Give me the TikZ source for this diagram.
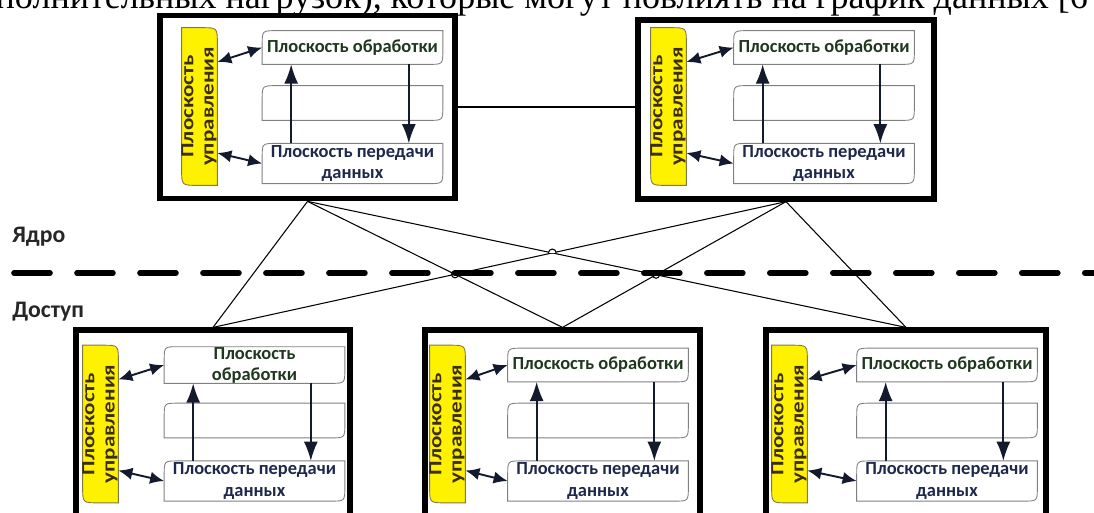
\documentclass[tikz,border=0pt]{standalone}
\usepackage{fontspec}
\usepackage{graphicx}
\setmainfont{Liberation Serif}
\newfontfamily\planefont{Carlito}
\usetikzlibrary{arrows.meta,backgrounds,intersections}

\definecolor{barfill}{RGB}{255,242,0}
\definecolor{barline}{RGB}{130,120,70}
\definecolor{bartext}{RGB}{60,45,10}
\definecolor{proctext}{RGB}{30,55,30}
\definecolor{datatext}{RGB}{30,40,75}
\definecolor{flowcol}{RGB}{20,26,45}

\tikzset{
  module/.style={draw,line width=3pt,inner sep=0pt},
  ctrlbar/.style={inner sep=0pt,minimum width=0.7cm,minimum height=3.14cm,text=bartext,
    font=\planefont\bfseries\fontsize{10.5}{11.5}\selectfont},
  plane/.style={inner sep=0pt,minimum width=3.6cm,align=center,
    font=\planefont\bfseries\fontsize{10.5}{12}\selectfont},
  proc/.style={plane,text=proctext,minimum height=0.66cm},
  data/.style={plane,text=datatext,minimum height=0.79cm},
  planeline/.style={draw=gray,line width=0.5pt},
  flow/.style={draw=flowcol,line width=1pt,-{Latex[length=11pt,width=8pt]}},
  ctrlarrow/.style={draw=flowcol,line width=1.1pt,{Latex[length=8pt,width=7pt]}-{Latex[length=8pt,width=7pt]}},
  wire/.style={line width=0.6pt},
  tierline/.style={line width=3.2pt,dash pattern=on 0.72cm off 0.54cm,line cap=round},
  tier/.style={anchor=west,inner sep=0pt,text=black!85,font=\planefont\bfseries\fontsize{13.5}{15}\selectfont}
}

% box with rounded top left and bottom right corners
\newcommand{\planeframe}[2]{%
  \draw[planeline] (#1.south west) -- ([yshift=-#2]#1.north west) .. controls (#1.north west) .. ([xshift=#2]#1.north west)
    -- (#1.north east) -- ([yshift=#2]#1.south east) .. controls (#1.south east) .. ([xshift=-#2]#1.south east) -- cycle;}

% one node: name, bar x, planes x, row y, processing text
\newcommand{\planeset}[5]{%
  \node[ctrlbar] (#1-ctrl) at (#2,#4+59) {\makebox[0pt]{\rotatebox{90}{\scalebox{1.25}[1]{\begin{tabular}{@{}c@{}}Плоскость\\управления\end{tabular}}}}};
  \begin{scope}[on background layer]
    \filldraw[fill=barfill,draw=barline,line width=0.5pt] (#1-ctrl.north west) -- ([xshift=-9pt]#1-ctrl.north east)
      .. controls (#1-ctrl.north east) .. ([yshift=-9pt]#1-ctrl.north east) -- (#1-ctrl.south east)
      -- ([xshift=9pt]#1-ctrl.south west) .. controls (#1-ctrl.south west) .. ([yshift=9pt]#1-ctrl.south west) -- cycle;
  \end{scope}
  \node[proc] (#1-proc) at (#3,#4) {#5};
  \node[plane,minimum height=0.68cm] (#1-mid) at (#3,#4+55.5) {};
  \node[data] (#1-data) at (#3,#4+116) {Плоскость передачи\\данных};
  \planeframe{#1-proc}{8pt}
  \planeframe{#1-mid}{8pt}
  \planeframe{#1-data}{8pt}
  \draw[flow] ([xshift=0.58cm]#1-data.north west) -- ([xshift=0.58cm]#1-proc.south west);
  \draw[flow] ([xshift=-0.68cm]#1-proc.south east) -- ([xshift=-0.68cm]#1-data.north east);
  \draw[ctrlarrow] ([yshift=0.89cm]#1-ctrl.east) -- (#1-proc.west);
  \draw[ctrlarrow] ([yshift=-0.93cm]#1-ctrl.east) -- (#1-data.west);
}

\begin{document}
\begin{tikzpicture}[x=0.02cm,y=-0.02cm]
\useasboundingbox (0,0) rectangle (1094,512);
\node[anchor=base east,font=\fontsize{20.5}{24}\selectfont] (caption) at (1094,8)
  {дополнительных нагрузок), которые могут повлиять на график данных [6};

% core
\node[module,minimum width=5.9cm,minimum height=3.67cm] (tl) at (307.5,107) {};
\node[module,minimum width=5.92cm,minimum height=3.58cm] (tr) at (786,109.5) {};
% access
\node[module,minimum width=5.48cm,minimum height=3.9cm] (bl) at (213,427.5) {};
\node[module,minimum width=5.5cm,minimum height=3.9cm] (bm) at (562.5,427.5) {};
\node[module,minimum width=5.6cm,minimum height=3.9cm] (br) at (906,427.5) {};

\planeset{tl}{199.5}{352.5}{47.5}{Плоскость обработки}
\planeset{tr}{668.5}{824}{47.5}{Плоскость обработки}
\planeset{bl}{100.5}{254.5}{365}{Плоскость\\обработки}
\planeset{bm}{447.5}{598}{365}{Плоскость обработки}
\planeset{br}{789.5}{947}{365}{Плоскость обработки}

\draw[tierline] (14,273) -- (1094,273); % core / access border
\node[tier] (core) at (12,237) {Ядро};
\node[tier] (access) at (12,312) {Доступ};

\draw[wire] (tl.east) -- (tl.east -| tr.west);
\draw[wire,name path=tl-bl] (tl.south) -- (bl.north);
\draw[wire,name path=tl-bm] (tl.south) -- (bm.north);
\draw[wire,name path=tl-br] (tl.south) -- (br.north);
\draw[wire,name path=tr-bl] (tr.south) -- (bl.north);
\draw[wire,name path=tr-bm] (tr.south) -- (bm.north);
\draw[wire,name path=tr-br] (tr.south) -- (br.north);

% line jumps
\path[name intersections={of=tl-br and tr-bl,by=hop1}];
\path[name intersections={of=tl-bm and tr-bl,by=hop2}];
\path[name intersections={of=tr-bm and tl-br,by=hop3}];
\draw[wire,fill=white] ([xshift=-2.2pt]hop1) arc[start angle=180,end angle=0,radius=2.2pt];
\draw[wire] (hop2) circle[radius=2pt];
\draw[wire] (hop3) circle[radius=2pt];
\end{tikzpicture}
\end{document}
